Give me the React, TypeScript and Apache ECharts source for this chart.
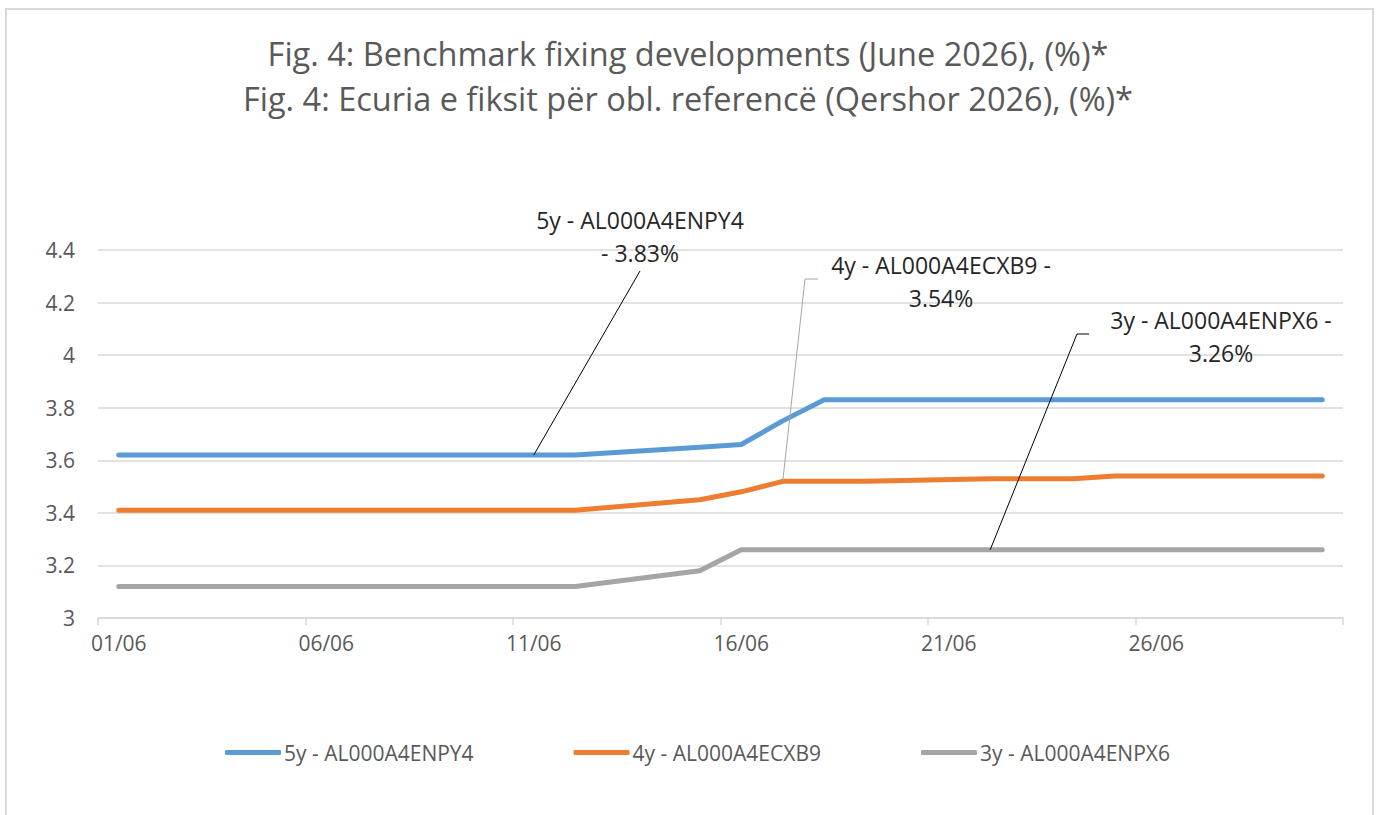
import React, { useEffect, useRef } from "react";
import * as echarts from "echarts";

// ---- Data ----
const categories = [
  "01/06", "02/06", "03/06", "04/06", "05/06", "06/06", "07/06", "08/06", "09/06", "10/06",
  "11/06", "12/06", "13/06", "14/06", "15/06", "16/06", "17/06", "18/06", "19/06", "20/06",
  "21/06", "22/06", "23/06", "24/06", "25/06", "26/06", "27/06", "28/06", "29/06", "30/06",
];

const seriesNames = ["5y - AL000A4ENPY4", "4y - AL000A4ECXB9", "3y - AL000A4ENPX6"];

const fixing5y = [
  3.62, 3.62, 3.62, 3.62, 3.62, null, null, 3.62, 3.62, 3.62,
  3.62, 3.62, null, null, 3.65, 3.66, 3.75, 3.83, 3.83, null,
  null, 3.83, 3.83, 3.83, 3.83, 3.83, null, null, 3.83, 3.83,
];
const fixing4y = [
  3.41, 3.41, 3.41, 3.41, 3.41, null, null, 3.41, 3.41, 3.41,
  3.41, 3.41, null, null, 3.45, 3.48, 3.52, 3.52, 3.52, null,
  null, 3.53, 3.53, 3.53, 3.54, 3.54, null, null, 3.54, 3.54,
];
const fixing3y = [
  3.12, 3.12, 3.12, 3.12, 3.12, null, null, 3.12, 3.12, 3.12,
  3.12, 3.12, null, null, 3.18, 3.26, 3.26, 3.26, 3.26, null,
  null, 3.26, 3.26, 3.26, 3.26, 3.26, null, null, 3.26, 3.26,
];
const seriesData = [fixing5y, fixing4y, fixing3y];

const yTicks = { min: 3, max: 4.4, step: 0.2 };

// data-label annotations: which series / day they point at, and their text
const noteSeries = [0, 1, 2];
const noteDays = ["11/06", "17/06", "22/06"];
const noteTexts = [
  "5y - AL000A4ENPY4\n- 3.83%",
  "4y - AL000A4ECXB9 -\n3.54%",
  "3y - AL000A4ENPX6 -\n3.26%",
];

const titleLines = [
  "Fig. 4: Benchmark fixing developments (June 2026), (%)*",
  "Fig. 4: Ecuria e fiksit për obl. referencë (Qershor 2026), (%)*",
];

// ---- Styles / layout ----
const FONT = "'Open Sans', Lato, 'Liberation Sans', sans-serif";
const COLORS = ["#5B9BD5", "#ED7D31", "#A5A5A5"];
const noteLayout = [
  { textX: 640, textY: 236, end: [[640, 271]], stroke: "#000000" },
  { textX: 941, textY: 281, end: [[805, 279], [818, 279]], stroke: "#A6A6A6" },
  { textX: 1221, textY: 336, end: [[1077, 334], [1089, 334]], stroke: "#000000" },
];

export default function App() {
  const ref = useRef<HTMLDivElement>(null);

  useEffect(() => {
    if (!ref.current) return;
    const chart = echarts.init(ref.current, undefined, { renderer: "svg" });

    const option: any = {
      animation: false,
      backgroundColor: "#ffffff",
      title: {
        text: titleLines.join("\n"),
        left: "center",
        top: 26,
        textStyle: {
          fontFamily: FONT,
          fontSize: 32.5,
          fontWeight: "normal",
          color: "#595959",
          lineHeight: 45,
        },
      },
      legend: {
        data: seriesNames,
        left: 220,
        top: 737,
        icon: "roundRect",
        itemWidth: 56,
        itemHeight: 5,
        itemGap: 100,
        textStyle: { fontFamily: FONT, fontSize: 21, color: "#595959", padding: [0, 0, 0, -2] },
      },
      grid: { left: 98, right: 33, top: 250, bottom: 197, containLabel: false },
      xAxis: {
        type: "category",
        data: categories,
        boundaryGap: true,
        axisLine: { lineStyle: { color: "#D9D9D9", width: 1.5 } },
        axisTick: { show: true, interval: 4, length: 7, lineStyle: { color: "#D9D9D9", width: 1.5 } },
        axisLabel: { interval: 4, color: "#595959", fontSize: 21, fontFamily: FONT, margin: 14 },
        splitLine: { show: false },
      },
      yAxis: {
        type: "value",
        min: yTicks.min,
        max: yTicks.max,
        interval: yTicks.step,
        axisLine: { show: false },
        axisTick: { show: false },
        axisLabel: {
          color: "#595959",
          fontSize: 21,
          fontFamily: FONT,
          margin: 23,
          formatter: (v: number) => String(Math.round(v * 10) / 10),
        },
        splitLine: { lineStyle: { color: "#D9D9D9", width: 1.5 } },
      },
      series: seriesNames.map((name, i) => ({
        name,
        type: "line",
        data: seriesData[i],
        connectNulls: true,
        showSymbol: false,
        symbol: "none",
        color: COLORS[i],
        lineStyle: { color: COLORS[i], width: 5, cap: "round", join: "round" },
        z: 10 - i,
      })),
    };

    chart.setOption(option);

    const graphics: any[] = [
      {
        type: "rect",
        silent: true,
        shape: { x: 6, y: 9, width: 1367, height: 830 },
        style: { fill: "none", stroke: "#D9D9D9", lineWidth: 2 },
        z: 100,
      },
    ];
    noteSeries.forEach((s, k) => {
      const idx = categories.indexOf(noteDays[k]);
      const val = seriesData[s][idx];
      const p = chart.convertToPixel({ gridIndex: 0 }, [idx, val as number]) as number[];
      const lay = noteLayout[k];
      graphics.push({
        type: "polyline",
        silent: true,
        shape: { points: [[p[0], p[1]], ...lay.end] },
        style: { stroke: lay.stroke, lineWidth: 1, fill: "none" },
        z: 110,
      });
      graphics.push({
        type: "text",
        silent: true,
        x: lay.textX,
        y: lay.textY,
        style: {
          text: noteTexts[k],
          fill: "#262626",
          font: `23px ${FONT}`,
          fontSize: 23,
          fontFamily: FONT,
          lineHeight: 33,
          align: "center",
          verticalAlign: "middle",
        },
        z: 120,
      });
    });
    chart.setOption({ graphic: graphics });

    return () => chart.dispose();
  }, []);

  return (
    <div
      ref={ref}
      style={{ position: "fixed", left: 0, top: 0, width: 1376, height: 815 }}
    />
  );
}
